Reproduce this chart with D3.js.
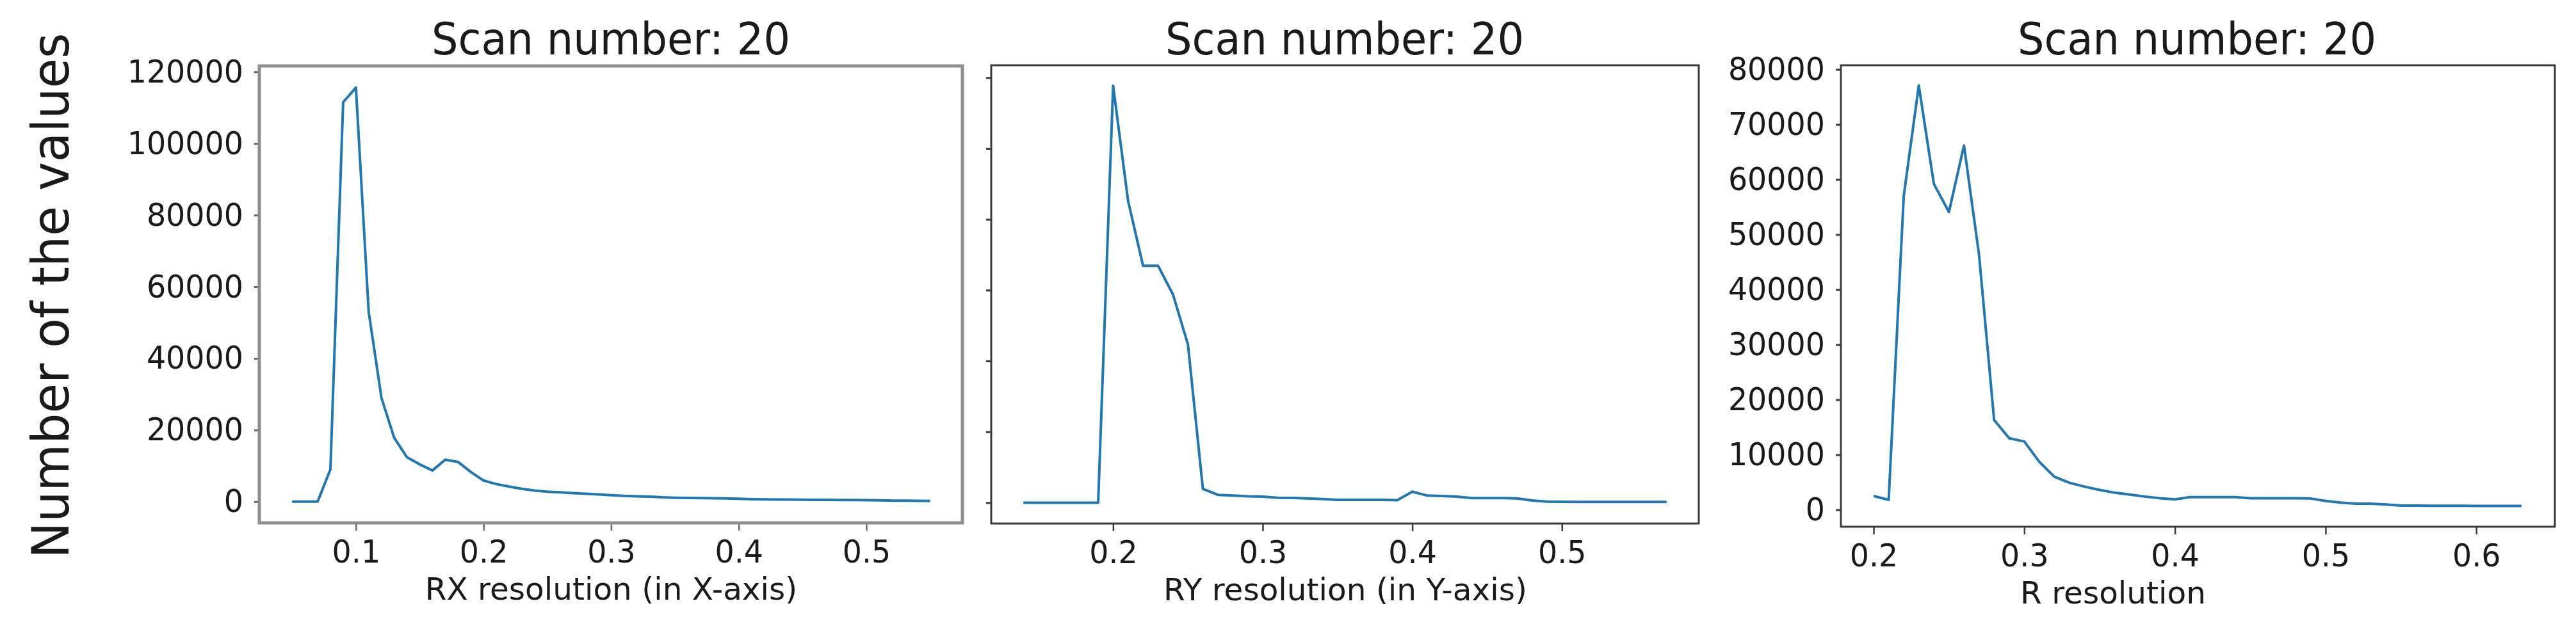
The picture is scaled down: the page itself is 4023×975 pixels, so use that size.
<!DOCTYPE html>
<html>
<head>
<meta charset="utf-8">
<script src="https://cdn.jsdelivr.net/npm/d3@7"></script>
<style>
  body { margin: 0; background: #fff; }
  svg { display: block; }
  text { font-family: "DejaVu Sans", sans-serif; fill: #1a1a1a; }
</style>
</head>
<body>
<svg id="chart" width="4023" height="975"></svg>
<script>
// ---------------- DATA ----------------
const rxRes = [0.05,0.06,0.07,0.08,0.09,0.10,0.11,0.12,0.13,0.14,0.15,0.16,0.17,0.18,0.19,0.20,
  0.21,0.22,0.23,0.24,0.25,0.26,0.27,0.28,0.29,0.30,0.31,0.32,0.33,0.34,0.35,0.36,0.37,0.38,0.39,0.40,
  0.41,0.42,0.43,0.44,0.45,0.46,0.47,0.48,0.49,0.50,0.51,0.52,0.53,0.54,0.55];
const rxCount = [0,0,0,9000,111500,115600,53000,29000,17800,12400,10400,8700,11700,11100,8300,5900,
  4900,4200,3600,3100,2800,2600,2400,2200,2000,1800,1600,1500,1400,1200,1100,1050,1000,950,900,800,
  700,650,600,580,550,520,500,480,450,400,350,300,280,250,200];

const ryRes = [0.14,0.15,0.16,0.17,0.18,0.19,0.20,0.21,0.22,0.23,0.24,0.25,0.26,0.27,0.28,0.29,0.30,
  0.31,0.32,0.33,0.34,0.35,0.36,0.37,0.38,0.39,0.40,0.41,0.42,0.43,0.44,0.45,0.46,0.47,0.48,0.49,0.50,
  0.51,0.52,0.53,0.54,0.55,0.56,0.57];
const ryCount = [0,0,0,0,0,0,117700,85200,66900,66900,58800,44700,3900,2200,2000,1800,1700,
  1400,1350,1200,1000,800,800,800,800,700,3100,2000,1900,1700,1300,1300,1300,1200,600,300,250,
  200,200,200,200,200,200,200];

const rRes = [0.20,0.21,0.22,0.23,0.24,0.25,0.26,0.27,0.28,0.29,0.30,0.31,0.32,0.33,0.34,0.35,0.36,
  0.37,0.38,0.39,0.40,0.41,0.42,0.43,0.44,0.45,0.46,0.47,0.48,0.49,0.50,0.51,0.52,0.53,0.54,0.55,0.56,
  0.57,0.58,0.59,0.60,0.61,0.62,0.63];
const rCount = [2500,1800,57000,77100,59200,54100,66200,46300,16300,13000,12400,8700,6000,4900,4200,3600,3100,
  2750,2400,2100,1900,2300,2300,2300,2300,2100,2100,2100,2100,2050,1600,1300,1100,1100,950,750,750,
  720,720,720,700,700,700,700];

const rxTicks = [0.1,0.2,0.3,0.4,0.5];
const ryTicks = [0.2,0.3,0.4,0.5];
const rTicks  = [0.2,0.3,0.4,0.5,0.6];
const countTicksA = [0,20000,40000,60000,80000,100000,120000];
const countTicksB = [0,10000,20000,30000,40000,50000,60000,70000,80000];

const titles  = ["Scan number: 20","Scan number: 20","Scan number: 20"];
const xLabels = ["RX resolution (in X-axis)","RY resolution (in Y-axis)","R resolution"];
const yLabel  = "Number of the values";

// ---------------- LAYOUT ----------------
const panels = [
  { xs: rxRes, ys: rxCount, xTicks: rxTicks, yTicks: countTicksA, yLab: true,
    left: 405, right: 1503, top: 103, bottom: 817,
    xDom: [0.0243, 0.5753], yDom: [-5930, 121650],
    titleCx: 954, xLabCx: 954.5, border: "#8e8e8e", borderW: 5, tickCol: "#666" },
  { xs: ryRes, ys: ryCount, xTicks: ryTicks, yTicks: countTicksA, yLab: false,
    left: 1548, right: 2653, top: 102, bottom: 818,
    xDom: [0.1185, 0.5915], yDom: [-5890, 123490],
    titleCx: 2100, xLabCx: 2101, border: "#3a3a3a", borderW: 3, tickCol: "#3a3a3a" },
  { xs: rRes, ys: rCount, xTicks: rTicks, yTicks: countTicksB, yLab: true,
    left: 2875, right: 3990, top: 102, bottom: 823,
    xDom: [0.1783, 0.6522], yDom: [-3081, 80756],
    titleCx: 3431, xLabCx: 3300, border: "#3a3a3a", borderW: 3, tickCol: "#3a3a3a" }
];

const svg = d3.select("#chart");

function squeeze(sel, f) {
  sel.each(function () {
    const w = this.getComputedTextLength();
    d3.select(this).attr("textLength", w * f).attr("lengthAdjust", "spacingAndGlyphs");
  });
}

panels.forEach((p, i) => {
  const g = svg.append("g");
  const x = d3.scaleLinear().domain(p.xDom).range([p.left, p.right]);
  const y = d3.scaleLinear().domain(p.yDom).range([p.bottom, p.top]);

  const pts = p.xs.map((v, k) => [v, p.ys[k]]);
  g.append("path")
    .datum(pts)
    .attr("fill", "none")
    .attr("stroke", "#1f77b4")
    .attr("stroke-width", 4)
    .attr("stroke-linejoin", "round")
    .attr("d", d3.line().x(d => x(d[0])).y(d => y(d[1])));

  // x axis
  const gx = g.append("g")
    .attr("transform", `translate(0,${p.bottom})`)
    .call(d3.axisBottom(x).tickValues(p.xTicks).tickFormat(d3.format(".1f"))
      .tickSize(12).tickPadding(14));
  gx.select(".domain").remove();
  gx.selectAll(".tick line").attr("stroke", p.tickCol).attr("stroke-width", 2.5);
  gx.selectAll(".tick text").attr("font-size", 50).attr("fill", "#1a1a1a")
    .style("font-family", '"DejaVu Sans", sans-serif');
  squeeze(gx.selectAll(".tick text"), 0.95);

  // y axis
  const gy = g.append("g")
    .attr("transform", `translate(${p.left},0)`)
    .call(d3.axisLeft(y).tickValues(p.yTicks)
      .tickFormat(p.yLab ? d3.format("d") : () => "")
      .tickSize(8).tickPadding(17));
  gy.select(".domain").remove();
  gy.selectAll(".tick line").attr("stroke", p.tickCol).attr("stroke-width", 3);
  gy.selectAll(".tick text").attr("font-size", 50).attr("fill", "#1a1a1a")
    .style("font-family", '"DejaVu Sans", sans-serif');
  if (p.yLab) squeeze(gy.selectAll(".tick text"), 0.95);

  // frame
  g.append("rect")
    .attr("x", p.left).attr("y", p.top)
    .attr("width", p.right - p.left).attr("height", p.bottom - p.top)
    .attr("fill", "none").attr("stroke", p.border).attr("stroke-width", p.borderW);

  // title
  const t = g.append("text")
    .attr("x", p.titleCx).attr("y", 85)
    .attr("text-anchor", "middle").attr("font-size", 70)
    .text(titles[i]);
  t.attr("textLength", 560).attr("lengthAdjust", "spacingAndGlyphs");

  // x label
  g.append("text")
    .attr("x", p.xLabCx).attr("y", p.bottom + 120)
    .attr("text-anchor", "middle").attr("font-size", 48.5)
    .text(xLabels[i]);
});

// figure y label
svg.append("text")
  .attr("transform", "translate(107,462) rotate(-90)")
  .attr("text-anchor", "middle")
  .attr("font-size", 80)
  .attr("textLength", 821).attr("lengthAdjust", "spacingAndGlyphs")
  .text(yLabel);
</script>
</body>
</html>
